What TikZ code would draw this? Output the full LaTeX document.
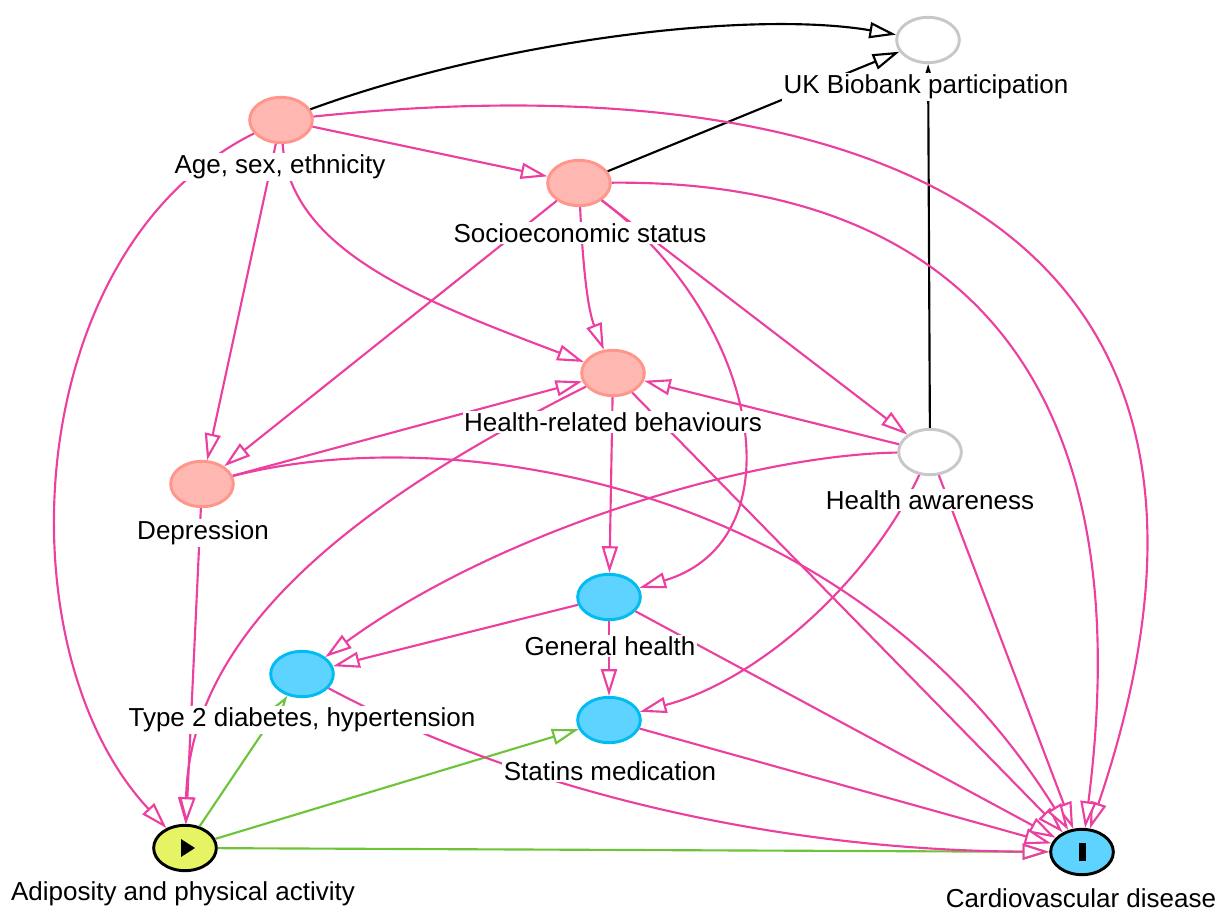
\documentclass[tikz,border=0pt]{standalone}
\usepackage{fontspec}
\setmainfont{Liberation Sans}
\usetikzlibrary{arrows.meta,shapes.geometric}
\definecolor{pinkE}{RGB}{236,64,160}
\definecolor{greenE}{RGB}{110,196,56}
\definecolor{confFill}{RGB}{255,183,178}
\definecolor{confLine}{RGB}{255,150,140}
\definecolor{blueFill}{RGB}{95,211,255}
\definecolor{blueLine}{RGB}{0,188,240}
\definecolor{expFill}{RGB}{230,244,100}
\definecolor{greyLine}{RGB}{200,200,200}
\begin{document}
\begin{tikzpicture}[x=0.75pt,y=-0.75pt,
  var/.style={ellipse, minimum width=47pt, minimum height=34pt, inner sep=0pt, line width=2.2pt},
  conf/.style={var, draw=confLine, fill=confFill},
  anc/.style={var, draw=blueLine, fill=blueFill},
  unobs/.style={var, draw=greyLine, fill=white},
  expo/.style={var, draw=black, fill=expFill},
  outc/.style={var, draw=black, fill=blueFill},
  lbl/.style={fill=white, inner sep=1.2pt, font=\fontsize{19.5pt}{23pt}\selectfont},
  tip/.style={-{Triangle[length=20pt,width=12pt,fill=white]}},
  bias/.style={tip, draw=pinkE, line width=1.6pt},
  causal/.style={tip, draw=greenE, line width=1.6pt},
  other/.style={tip, draw=black, line width=1.6pt},
]
\useasboundingbox (0,0) rectangle (1218,911);

% nodes
\node[unobs] (ukb) at (928,40) {};
\node[conf] (age) at (281,120) {};
\node[conf] (ses) at (579,183) {};
\node[conf] (hrb) at (613,373) {};
\node[unobs] (ha) at (930,452) {};
\node[conf] (dep) at (202,484) {};
\node[anc] (gh) at (609,597) {};
\node[anc] (t2d) at (302,674) {};
\node[anc] (stat) at (609,720) {};
\node[expo] (adi) at (185,848) {};
\node[outc] (cvd) at (1082,852) {};

% black edges
\draw[other] (age) .. controls (500,40) and (750,10) .. (ukb);
\draw[other] (ses) -- (ukb);
\draw[other] (ha) -- (ukb);

% green edges
\draw[causal] (adi) -- (t2d);
\draw[causal] (adi) -- (stat);
\draw[causal] (adi) -- (cvd);

% pink edges
\draw[bias] (age) -- (ses);
\draw[bias] (age) .. controls (850,60) and (1300,210) .. (cvd);
\draw[bias] (age) .. controls (20,250) and (0,650) .. (adi);
\draw[bias] (age) -- (dep);
\draw[bias] (age) .. controls (290,250) and (420,300) .. (hrb);
\draw[bias] (ses) .. controls (583,270) and (588,310) .. (hrb);
\draw[bias] (ses) -- (dep);
\draw[bias] (ses) .. controls (760,320) and (800,540) .. (gh);
\draw[bias] (ses) -- (ha);
\draw[bias] (ses) .. controls (900,180) and (1150,320) .. (cvd);
\draw[bias] (hrb) -- (gh);
\draw[bias] (hrb) -- (cvd);
\draw[bias] (hrb) .. controls (380,490) and (190,620) .. (adi);
\draw[bias] (ha) -- (hrb);
\draw[bias] (ha) .. controls (750,455) and (500,530) .. (t2d);
\draw[bias] (ha) .. controls (870,580) and (760,680) .. (stat);
\draw[bias] (ha) -- (cvd);
\draw[bias] (dep) -- (hrb);
\draw[bias] (dep) .. controls (450,420) and (850,480) .. (cvd);
\draw[bias] (dep) -- (adi);
\draw[bias] (gh) -- (t2d);
\draw[bias] (gh) -- (stat);
\draw[bias] (gh) -- (cvd);
\draw[bias] (t2d) .. controls (500,780) and (750,850) .. (cvd);
\draw[bias] (stat) -- (cvd);

% symbols
\fill[black] (181,839) -- (195,848) -- (181,857) -- cycle;
\fill[black] (1079,843) rectangle (1086,861);

% labels
\node[lbl] (ukbL) at (926,87) {UK Biobank participation};
\node[lbl] (ageL) at (280,167) {Age, sex, ethnicity};
\node[lbl] (sesL) at (580,233) {Socioeconomic status};
\node[lbl] (hrbL) at (613,422) {Health-related behaviours};
\node[lbl] (haL) at (930,500) {Health awareness};
\node[lbl] (depL) at (203,533) {Depression};
\node[lbl] (ghL) at (610,646) {General health};
\node[lbl] (t2dL) at (302,720) {Type 2 diabetes, hypertension};
\node[lbl] (statL) at (610,771) {Statins medication};
\node[lbl] (adiL) at (183,894) {Adiposity and physical activity};
\node[lbl] (cvdL) at (1081,898) {Cardiovascular disease};
\end{tikzpicture}
\end{document}
